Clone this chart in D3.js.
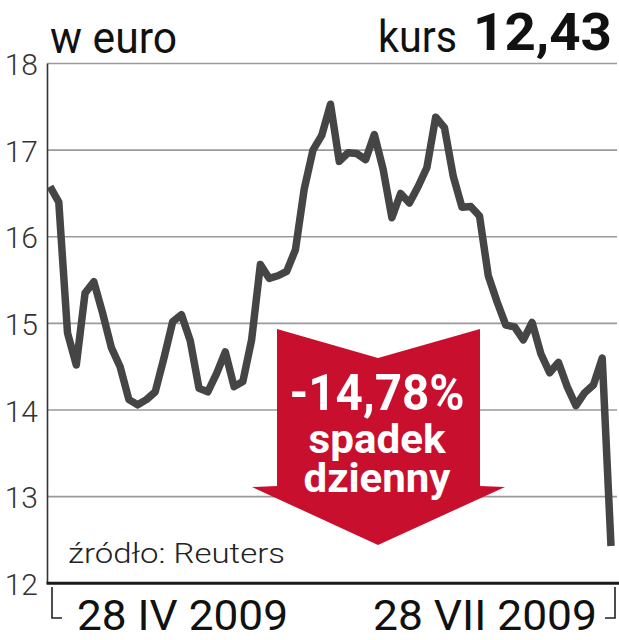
<!DOCTYPE html>
<html>
<head>
<meta charset="utf-8">
<script src="https://cdn.jsdelivr.net/npm/d3@7"></script>
<style>
  body { margin: 0; background: #fff; }
  svg { display: block; }
</style>
</head>
<body>
<div id="chart"></div>
<script>
// daily closing price, euro (28 IV 2009 .. end of VII 2009)
var values = [
  16.58, 16.40, 14.89, 14.52, 15.35, 15.48, 15.12, 14.72, 14.50, 14.12,
  14.06, 14.12, 14.21, 14.60, 15.02, 15.10, 14.80, 14.25, 14.21, 14.42,
  14.67, 14.27, 14.33, 14.81, 15.68, 15.52, 15.55, 15.60, 15.85, 16.55,
  17.00, 17.17, 17.53, 16.87, 16.97, 16.96, 16.89, 17.18, 16.78, 16.22,
  16.50, 16.39, 16.58, 16.80, 17.38, 17.26, 16.70, 16.34, 16.35, 16.24,
  15.55, 15.25, 14.98, 14.96, 14.81, 15.01, 14.65, 14.43, 14.55, 14.27,
  14.05, 14.20, 14.29, 14.60, 12.43
];
var yTicks = [12, 13, 14, 15, 16, 17, 18];
var dateLabels = ["28 IV 2009", "28 VII 2009"];
var unitLabel = "w euro";
var lastLabel = "kurs";
var lastValue = "12,43";
var changeLines = ["-14,78%", "spadek", "dzienny"];
var sourceLabel = "źródło: Reuters";

var width = 619, height = 640;
var margin = {top: 63.5, right: 3, bottom: 57, left: 47.5};

var svg = d3.select("#chart").append("svg")
    .attr("width", width)
    .attr("height", height);

var x = d3.scaleLinear()
    .domain([0, values.length - 1])
    .range([50, 611]);

var y = d3.scaleLinear()
    .domain([12, 18])
    .range([height - margin.bottom + 0.3, margin.top]);

// gridlines
svg.append("g").selectAll("line")
    .data(yTicks.filter(function(d) { return d > 12; }))
  .enter().append("line")
    .attr("x1", margin.left)
    .attr("x2", 617)
    .attr("y1", function(d) { return y(d); })
    .attr("y2", function(d) { return y(d); })
    .attr("stroke", "#9a9a9a")
    .attr("stroke-width", 1.6);

// y labels
svg.append("g").selectAll("text")
    .data(yTicks)
  .enter().append("text")
    .attr("x", 38)
    .attr("y", function(d) { return y(d) + 11.5; })
    .attr("text-anchor", "end")
    .attr("font-family", "Roboto")
    .attr("font-weight", 300)
    .attr("font-size", 30)
    .attr("fill", "#333")
    .text(function(d) { return d; });

// left axis
svg.append("line")
    .attr("x1", margin.left).attr("x2", margin.left)
    .attr("y1", y(18)).attr("y2", y(12))
    .attr("stroke", "#333")
    .attr("stroke-width", 1.6);

// red arrow
var arrow = [[277, 329], [378, 358], [480, 329], [480, 486], [505, 487],
             [378, 545], [252, 487], [277, 486]];
svg.append("path")
    .attr("d", "M" + arrow.join("L") + "Z")
    .attr("fill", "#c8102e");

var arrowText = [
  {t: changeLines[0], y: 410, size: 50, w: 175},
  {t: changeLines[1], y: 453, size: 41, w: 137},
  {t: changeLines[2], y: 492, size: 41, w: 147}
];
svg.append("g").selectAll("text")
    .data(arrowText)
  .enter().append("text")
    .attr("x", function(d) { return 377 - d.w / 2; })
    .attr("y", function(d) { return d.y; })
    .attr("textLength", function(d) { return d.w; })
    .attr("lengthAdjust", "spacingAndGlyphs")
    .attr("font-family", "Roboto")
    .attr("font-weight", 700)
    .attr("font-size", function(d) { return d.size; })
    .attr("fill", "#fff")
    .text(function(d) { return d.t; });

// source
svg.append("text")
    .attr("x", 68).attr("y", 563)
    .attr("textLength", 217)
    .attr("lengthAdjust", "spacingAndGlyphs")
    .attr("font-family", "Roboto")
    .attr("font-weight", 300)
    .attr("font-size", 28)
    .attr("fill", "#222")
    .text(sourceLabel);

// price line
var line = d3.line()
    .x(function(d, i) { return x(i); })
    .y(function(d) { return y(d); });

svg.append("path")
    .datum(values)
    .attr("d", line)
    .attr("fill", "none")
    .attr("stroke", "#454545")
    .attr("stroke-width", 7.5)
    .attr("stroke-linejoin", "round")
    .attr("stroke-linecap", "butt");

// bottom axis
svg.append("line")
    .attr("x1", margin.left - 1).attr("x2", width)
    .attr("y1", y(12)).attr("y2", y(12))
    .attr("stroke", "#1a1a1a")
    .attr("stroke-width", 3);

// date brackets
svg.append("path")
    .attr("d", "M52,587V618H62M605,618H615V587")
    .attr("fill", "none")
    .attr("stroke", "#222")
    .attr("stroke-width", 1.6);

svg.append("text")
    .attr("x", 77).attr("y", 630)
    .attr("textLength", 211)
    .attr("lengthAdjust", "spacingAndGlyphs")
    .attr("font-family", "Roboto")
    .attr("font-size", 42)
    .attr("fill", "#111")
    .text(dateLabels[0]);

svg.append("text")
    .attr("x", 373).attr("y", 630)
    .attr("textLength", 224)
    .attr("lengthAdjust", "spacingAndGlyphs")
    .attr("font-family", "Roboto")
    .attr("font-size", 42)
    .attr("fill", "#111")
    .text(dateLabels[1]);

// header
svg.append("text")
    .attr("x", 50).attr("y", 53)
    .attr("textLength", 127)
    .attr("lengthAdjust", "spacingAndGlyphs")
    .attr("font-family", "Roboto")
    .attr("font-size", 44)
    .attr("fill", "#111")
    .text(unitLabel);

svg.append("text")
    .attr("x", 378).attr("y", 52)
    .attr("textLength", 79)
    .attr("lengthAdjust", "spacingAndGlyphs")
    .attr("font-family", "Roboto")
    .attr("font-size", 45)
    .attr("fill", "#111")
    .text(lastLabel);

svg.append("text")
    .attr("x", 473).attr("y", 50)
    .attr("textLength", 139)
    .attr("lengthAdjust", "spacingAndGlyphs")
    .attr("font-family", "Roboto")
    .attr("font-weight", 700)
    .attr("font-size", 51)
    .attr("fill", "#111")
    .text(lastValue);
</script>
</body>
</html>
